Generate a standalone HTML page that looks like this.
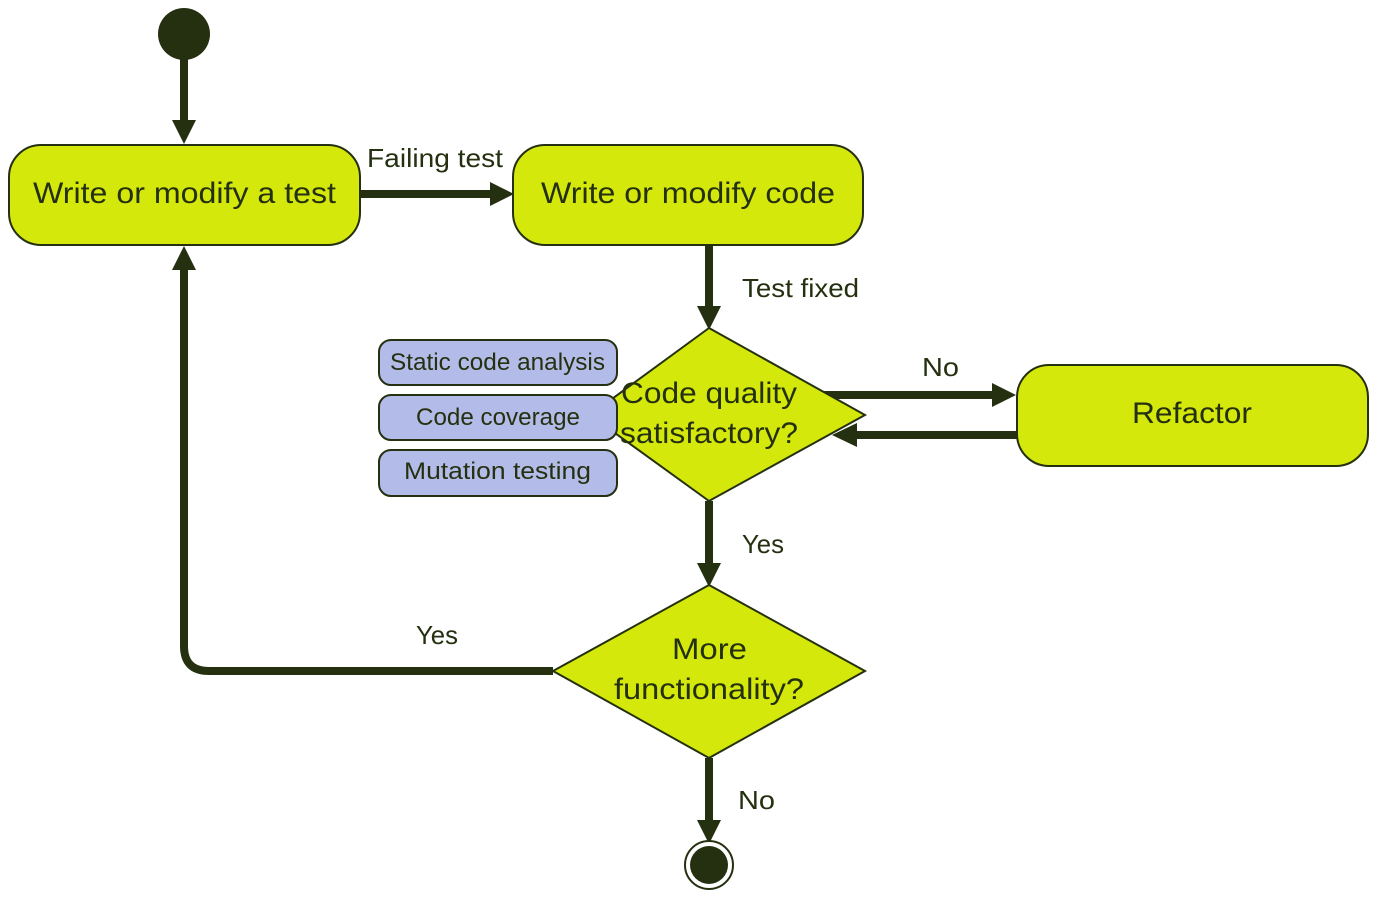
<!DOCTYPE html>
<html><head><style>html,body{margin:0;padding:0;background:#fff}svg{display:block}</style></head>
<body>
<svg width="1377" height="900" viewBox="0 0 1377 900" xmlns="http://www.w3.org/2000/svg" font-family="Liberation Sans, sans-serif" fill="#24300f">
<g stroke="#24300f" stroke-width="8" fill="none">
<line x1="184" y1="55" x2="184" y2="122"/>
<line x1="360" y1="194" x2="492" y2="194"/>
<line x1="709" y1="245" x2="709" y2="308"/>
<line x1="800" y1="395" x2="995" y2="395"/>
<line x1="1017" y1="435" x2="855" y2="435"/>
<line x1="709" y1="501" x2="709" y2="565"/>
<line x1="709" y1="758" x2="709" y2="822"/>
<path d="M553 671 H209 Q184 671 184 646 V268"/>
</g>
<g fill="#24300f">
<polygon points="172,120 196,120 184,144"/>
<polygon points="490,182 490,206 514,194"/>
<polygon points="697,306 721,306 709,330"/>
<polygon points="992,383 992,407 1016,395"/>
<polygon points="857,423 857,447 832,435"/>
<polygon points="697,563 721,563 709,587"/>
<polygon points="697,820 721,820 709,844"/>
<polygon points="172,270 196,270 184,246"/>
</g>
<circle cx="184" cy="34" r="26"/>
<circle cx="709" cy="865" r="24" fill="#fff" stroke="#24300f" stroke-width="2"/>
<circle cx="709" cy="865" r="19"/>
<g fill="#d4e80c" stroke="#24300f" stroke-width="2">
<rect x="9" y="145" width="351" height="100" rx="32"/>
<rect x="513" y="145" width="350" height="100" rx="32"/>
<rect x="1017" y="365" width="351" height="101" rx="32"/>
<polygon points="709,328 865,415 709,501 590,415"/>
<polygon points="709,585 865,671 709,758 553,671"/>
</g>
<g fill="#b3bbe8" stroke="#24300f" stroke-width="2">
<rect x="379" y="340" width="238" height="45" rx="12"/>
<rect x="379" y="395" width="238" height="45" rx="12"/>
<rect x="379" y="450" width="238" height="46" rx="12"/>
</g>
<g font-size="30">
<text x="33" y="203" textLength="303" lengthAdjust="spacingAndGlyphs">Write or modify a test</text>
<text x="541" y="203" textLength="294" lengthAdjust="spacingAndGlyphs">Write or modify code</text>
<text x="1132" y="423" textLength="120" lengthAdjust="spacingAndGlyphs">Refactor</text>
<text x="621" y="403" textLength="176" lengthAdjust="spacingAndGlyphs">Code quality</text>
<text x="620" y="443" textLength="178" lengthAdjust="spacingAndGlyphs">satisfactory?</text>
<text x="672" y="659" textLength="75" lengthAdjust="spacingAndGlyphs">More</text>
<text x="614" y="699" textLength="190" lengthAdjust="spacingAndGlyphs">functionality?</text>
</g>
<g font-size="26">
<text x="367" y="167" textLength="136" lengthAdjust="spacingAndGlyphs">Failing test</text>
<text x="742" y="297" textLength="117" lengthAdjust="spacingAndGlyphs">Test fixed</text>
<text x="922" y="376" textLength="37" lengthAdjust="spacingAndGlyphs">No</text>
<text x="742" y="553" textLength="42" lengthAdjust="spacingAndGlyphs">Yes</text>
<text x="416" y="644" textLength="42" lengthAdjust="spacingAndGlyphs">Yes</text>
<text x="738" y="809" textLength="37" lengthAdjust="spacingAndGlyphs">No</text>
<text x="390" y="370" font-size="24" textLength="215" lengthAdjust="spacingAndGlyphs">Static code analysis</text>
<text x="416" y="425" font-size="24" textLength="164" lengthAdjust="spacingAndGlyphs">Code coverage</text>
<text x="404" y="479" font-size="24" textLength="187" lengthAdjust="spacingAndGlyphs">Mutation testing</text>
</g>
</svg>
</body></html>
